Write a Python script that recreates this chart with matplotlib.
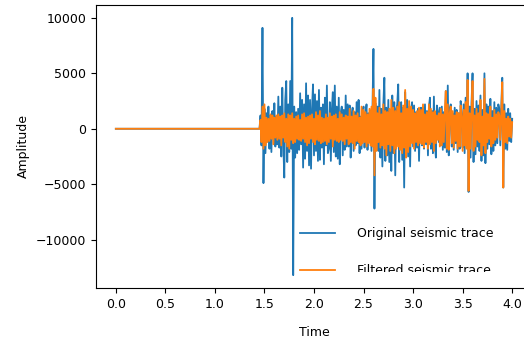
import numpy as np
import matplotlib
matplotlib.use("Agg")
import matplotlib.pyplot as plt
from matplotlib.patches import Rectangle

# quiet part of the trace before the first arrival
quiet_time = [0.0, 1.44]
quiet_amp = [0.0, 0.0]

# samples every 0.01 s from 1.45 s to 4.00 s, amplitudes in hundreds
# (one row = 0.1 s)
t_start = 1.45
dt = 0.01
scale = 100
original = [
    0, 12, -15, 91, -49, 18, -22, 14, -10, 20,
    -18, 12, -21, 16, -9, 23, -16, 11, -14, 29,
    -17, 20, -25, 37, -12, -44, 26, 43, -30, 22,
    -21, 43, -18, 100, -132, 20, -26, 15, -22, 18,
    -19, 32, -14, 26, -35, 22, -27, 41, -20, 30,
    -33, 26, -36, 18, 40, -24, 31, -20, 25, -29,
    35, -28, 19, -17, 22, -32, 28, -15, 39, -22,
    -18, 24, -29, 17, 33, -21, 39, -25, 20, -27,
    28, -32, 14, 20, -24, 17, -19, 30, -16, 22,
    -16, 21, -26, 12, 19, -20, 15, -15, 24, -13,
    26, -22, 11, -18, 15, 20, -17, 13, 22, -19,
    14, -12, 16, -20, 18, 72, -72, 23, -15, 20,
    -20, 35, -26, 18, -34, 22, 46, -29, 19, -24,
    26, -30, 17, -38, 30, -22, 24, -42, 18, 22,
    40, -30, 15, 24, -28, 19, -53, 33, -20, 26,
    -25, 20, -34, 18, 24, -16, 21, -20, 15, -17,
    18, -29, 14, 19, -15, 12, -18, 22, -14, 16,
    -24, 20, 28, -18, 16, -22, 29, -14, -26, 21,
    16, -12, 19, -15, 20, -19, 15, -17, 34, -21,
    39, -24, 18, 22, -16, 14, -19, 19, -13, 17,
    -21, 14, -18, 25, 12, -17, 22, -22, 28, -15,
    50, -57, 20, -26, 24, 50, -30, 18, -23, 25,
    -16, 21, -20, 30, -29, 17, -24, 50, -31, 22,
    -18, 20, -14, 27, -23, 16, -20, 24, -15, 19,
    -13, 22, 18, -15, 20, 46, -53, 22, -18, 14,
    -19, 18, -11, 14, -12, 9,
]
filtered = [
    0, 8, -12, 20, -18, 22, -15, 10, -12, 9,
    -11, 13, -9, 12, -14, 10, -8, 12, -10, 13,
    -9, 11, -15, 12, -8, 14, -12, 9, -16, 13,
    -18, 12, -10, 14, -13, 9, -12, 11, -9, 12,
    -10, 8, -11, 13, -9, 14, -12, 10, -15, 11,
    -13, 12, -9, 13, -12, 9, -14, 15, -10, 12,
    -11, 16, -13, 10, -12, 9, -11, 13, -14, 10,
    -12, 14, -9, 11, -16, 12, -10, 13, -11, 9,
    -12, 15, -10, 13, -11, 10, -14, 12, -9, 11,
    -14, 18, -12, 11, -13, 16, -18, 12, -11, 14,
    -12, 10, -15, 20, -13, 17, -12, 15, -16, 13,
    -13, 18, -15, 20, -16, 36, -42, 28, -20, 14,
    -12, 19, -17, 13, -15, 22, -18, 16, -24, 15,
    -14, 18, -20, 26, -15, 19, -22, 16, -18, 20,
    -16, 24, -19, 14, -22, 21, -17, 35, -26, 18,
    -21, 25, -16, 20, -13, 17, -18, 14, -12, 16,
    -15, 19, -13, 17, -14, 22, -17, 13, -12, 15,
    -18, 22, -14, 18, -12, 15, -20, 16, -13, 12,
    -10, 14, -16, 18, -15, 13, -12, 16, 34, -18,
    22, -19, 14, 20, -13, 16, -17, 12, -11, 15,
    -18, 14, -16, 21, 11, -20, 17, -15, 24, -18,
    44, -56, 14, -18, 16, 43, -20, 12, -16, 18,
    -10, 14, -12, 26, -24, 11, -15, 45, -22, 14,
    -12, 13, -9, 20, -16, 10, -13, 17, -10, 13,
    -8, 15, 12, -10, 14, 42, -53, 16, -12, 9,
    -13, 11, -7, 9, -8, 6,
]

sample_time = t_start + dt * np.arange(len(original))
time = np.concatenate([quiet_time, sample_time])
orig_trace = np.concatenate([quiet_amp, np.array(original) * scale])
filt_trace = np.concatenate([quiet_amp, np.array(filtered) * scale])

W, H = 524, 341
fig = plt.figure(figsize=(W / 100, H / 100), dpi=100)
ax = fig.add_axes([96 / W, 1 - 288 / H, (532 - 96) / W, (288 - 5) / H])

ax.plot(time, orig_trace, color="#1f77b4", linewidth=1.3, label="Original seismic trace")
ax.plot(time, filt_trace, color="#ff7f0e", linewidth=1.3, label="Filtered seismic trace")

ax.set_xlim(-0.2, 4.2)
ax.spines["right"].set_visible(False)
ax.set_xticks([0.0, 0.5, 1.0, 1.5, 2.0, 2.5, 3.0, 3.5, 4.0])
ax.set_yticks([-10000, -5000, 0, 5000, 10000])
ax.tick_params(labelsize=9)
ax.set_xlabel("Time", fontsize=9, labelpad=11)
ax.set_ylabel("Amplitude", fontsize=9, labelpad=4)

leg = ax.legend(loc="upper left", bbox_to_anchor=(300 / W, 1 - 227 / H),
                bbox_transform=fig.transFigure, frameon=False, fontsize=9,
                handlelength=2.8, handletextpad=1.76, labelspacing=1.96,
                borderpad=0, borderaxespad=0)

# white band that cuts the lower legend entry, as in the picture
fig.patches.append(Rectangle((296 / W, 1 - 287 / H), (522 - 296) / W, 15 / H,
                             transform=fig.transFigure, facecolor="white",
                             edgecolor="none", zorder=10))

fig.savefig("out.png", dpi=100)
